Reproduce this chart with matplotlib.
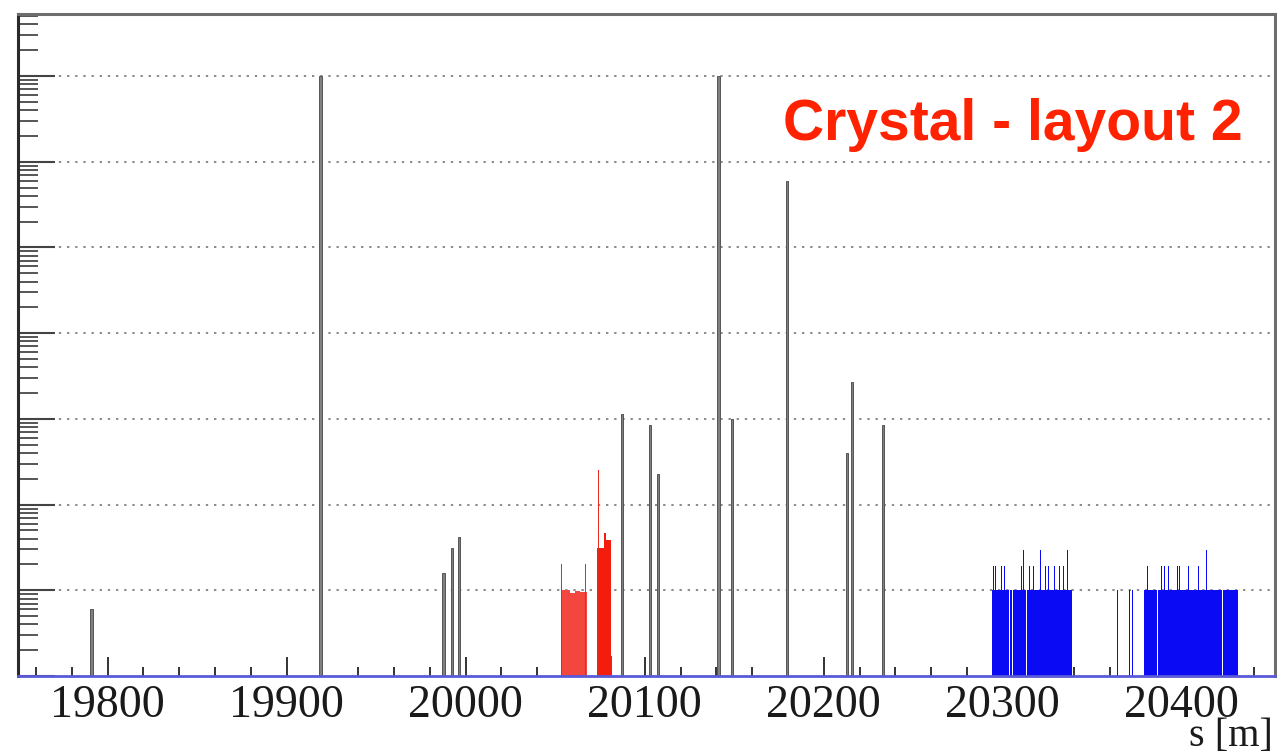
import numpy as np
import matplotlib
matplotlib.use("Agg")
import matplotlib.pyplot as plt
from matplotlib.ticker import MultipleLocator, LogLocator, NullFormatter

# ---- data: beam loss along the ring, s in metres ----
# single-bin losses (warm / other elements)
gray_s = [19791.1, 19919.0, 19987.7, 19992.2, 19996.1, 20087.2, 20102.8,
          20107.3, 20141.3, 20148.6, 20179.3, 20212.8, 20215.6, 20233.0]
gray_loss = [6.0e-7, 1.0, 1.6e-6, 3.1e-6, 4.2e-6, 1.14e-4, 8.5e-5,
             2.3e-5, 1.0, 1.0e-4, 0.06, 4.0e-5, 2.7e-4, 8.5e-5]

# cold losses, first region (red): contiguous spans and narrow peaks
red_start = [20053.1, 20058.3, 20061.1, 20063.9, 20073.2, 20077.1, 20078.2]
red_end = [20058.0, 20060.8, 20063.6, 20067.6, 20077.1, 20078.2, 20081.0]
red_level = [1.0e-6, 0.93e-6, 0.97e-6, 0.95e-6, 3.1e-6, 4.6e-6, 3.85e-6]
red_peak_s = [20053.5, 20066.8, 20074.3, 20081.5]
red_peak_loss = [2.0e-6, 2.0e-6, 2.5e-5, 1.7e-7]

# cold losses, second region (blue)
blue_start = [20293.9, 20304.2, 20305.9, 20313.7, 20364.0, 20370.6, 20372.3,
              20378.8, 20386.9, 20423.2]
blue_end = [20303.6, 20305.3, 20313.1, 20338.5, 20364.5, 20371.2, 20372.9,
            20386.3, 20422.6, 20431.3]
blue_level = [1.0e-6] * 10
blue_peak_s = [20294.6, 20295.9, 20299.2, 20301.1, 20310.4, 20311.7, 20315.1,
               20317.0, 20321.2, 20324.0, 20325.3, 20329.1, 20331.8, 20333.7,
               20336.0, 20380.6, 20388.6, 20390.5, 20392.3, 20397.4, 20398.9,
               20403.5, 20409.1, 20413.8, 20430.2]
blue_peak_loss = [1.9e-6, 1.9e-6, 1.9e-6, 1.9e-6, 1.9e-6, 2.95e-6, 1.9e-6,
                  1.9e-6, 2.95e-6, 1.9e-6, 1.9e-6, 1.9e-6, 1.9e-6, 1.9e-6,
                  2.95e-6, 1.9e-6, 1.9e-6, 1.9e-6, 1.9e-6, 1.9e-6, 1.9e-6,
                  1.9e-6, 1.9e-6, 2.95e-6, 1.9e-6]

x_range = (19750, 20452)
y_range = (1e-7, 5.3)

# ---- figure ----
fig = plt.figure(figsize=(12.77, 7.56), dpi=100)
ax = fig.add_axes([18 / 1277, 80 / 756, 1257 / 1277, 662 / 756])

base = 1e-9
# decade grid, dotted
for k in range(-6, 1):
    ax.axhline(10.0 ** k, color="#8a8a8a", lw=1.4, ls=(0, (1.2, 3.0)), zorder=0)

ax.bar(gray_s, np.array(gray_loss) - base, bottom=base, width=1.3,
       color="#808080", edgecolor="#555555", linewidth=0.7, zorder=2)

red_colors = ["#f2463e"] * 4 + ["#f41c0c"] * 3
ax.bar(red_start, np.array(red_level) - base, bottom=base,
       width=np.array(red_end) - np.array(red_start), align="edge",
       color=red_colors, linewidth=0, zorder=2)
ax.bar(red_peak_s, np.array(red_peak_loss) - base, bottom=base, width=0.5,
       color="#e8281c", linewidth=0, zorder=2)

ax.bar(blue_start, np.array(blue_level) - base, bottom=base,
       width=np.array(blue_end) - np.array(blue_start), align="edge",
       color="#0a0af5", linewidth=0, zorder=2)
ax.bar(blue_peak_s, np.array(blue_peak_loss) - base, bottom=base, width=0.5,
       color="#0a0af5", linewidth=0, zorder=2)

ax.set_yscale("log")
ax.set_xlim(*x_range)
ax.set_ylim(*y_range)

ax.xaxis.set_major_locator(MultipleLocator(100))
ax.xaxis.set_minor_locator(MultipleLocator(20))
ax.yaxis.set_major_locator(LogLocator(base=10, numticks=20))
ax.yaxis.set_minor_locator(LogLocator(base=10, subs=np.arange(2, 10), numticks=20))
ax.yaxis.set_minor_formatter(NullFormatter())

ax.tick_params(axis="x", which="major", direction="in", length=13.5, width=1.4,
               color="#333333", pad=6, labelsize=33)
ax.tick_params(axis="x", which="minor", direction="in", length=6.5, width=1.4,
               color="#333333")
ax.tick_params(axis="y", which="major", direction="in", length=26.5, width=1.5,
               color="#444444", labelleft=False)
ax.tick_params(axis="y", which="minor", direction="in", length=14.5, width=1.4,
               color="#555555")
for lab in ax.get_xticklabels():
    lab.set_family("Liberation Serif")
    lab.set_color("#1a1a1a")

for side in ("top", "right"):
    ax.spines[side].set_color("#6e6e6e")
    ax.spines[side].set_linewidth(2.2)
ax.spines["left"].set_color("#2a2a2a")
ax.spines["left"].set_linewidth(2.2)
ax.spines["bottom"].set_color("#5a5ad8")
ax.spines["bottom"].set_linewidth(2.0)
ax.spines["bottom"].set_zorder(3)

ax.text((1243 - 18) / 1257, (676 - 140) / 662,
        "Crystal - layout 2", transform=ax.transAxes,
        ha="right", va="baseline", family="Liberation Sans", weight="bold",
        fontsize=41, color="#ff2200")

fig.text(0.997, 1 / 756, "s [m]", ha="right", va="bottom",
         family="Liberation Serif", fontsize=29, color="#1a1a1a")

fig.savefig("out.png", dpi=100)
